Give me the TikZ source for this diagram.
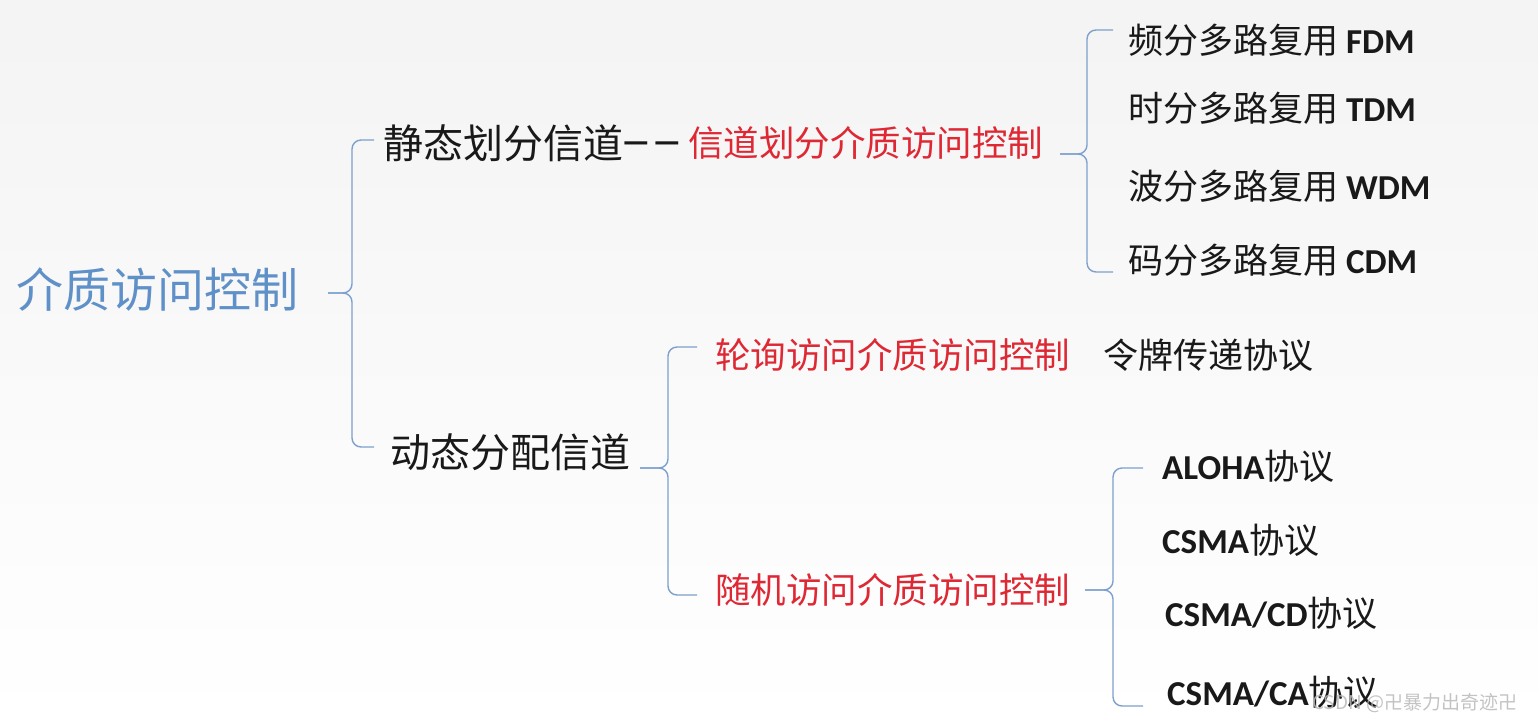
\documentclass[tikz,border=0pt]{standalone}
\usepackage{fontspec}
\newfontfamily\cjk{Noto Sans CJK SC}
\newfontfamily\lat{Carlito}
\definecolor{tblue}{RGB}{95,145,200}
\definecolor{tred}{RGB}{222,40,52}
\definecolor{brc}{RGB}{125,160,205}
\definecolor{tblack}{RGB}{25,25,25}
\newcommand\fs[1]{\fontsize{#1pt}{#1pt}\selectfont}
\tikzset{
  lbl/.style={inner sep=0pt, anchor=west, text=tblack, font=\cjk\fs{40}},
  redl/.style={lbl, text=tred, font=\cjk\fs{35.5}},
  leaf/.style={lbl, font=\cjk\fs{35}},
  brc/.style={draw=brc, line width=1.4pt, rounded corners=9pt},
}
% brace: #1 x of vertical, #2 top y, #3 bottom y, #4 mid y, #5 left x, #6 right x
\newcommand\mybrace[6]{%
  \draw[brc] (#6,#2) -- (#1,#2) -- (#1,#4) -- (#5,#4);
  \draw[brc] (#5,#4) -- (#1,#4) -- (#1,#3) -- (#6,#3);
}
\begin{document}
\begin{tikzpicture}[x=1pt,y=-1pt]
\shade[top color=gray!9, bottom color=white] (0,0) rectangle (1538,723);
\useasboundingbox (0,0) rectangle (1538,723);

\node[lbl, text=tblue, font=\cjk\fs{47}] (root) at (16,290) {介质访问控制};

\node[lbl] (static) at (383,143) {静态划分信道};
\node[lbl, font=\cjk\bfseries\fs{28}] (dash) at (623,147) {—\hspace{6pt}—};
\node[redl] (chan) at (688,143) {信道划分介质访问控制};

\node[leaf] (fdm) at (1128,40) {频分多路复用 {\lat\bfseries FDM}};
\node[leaf] (tdm) at (1128,108) {时分多路复用 {\lat\bfseries TDM}};
\node[leaf] (wdm) at (1128,186) {波分多路复用 {\lat\bfseries WDM}};
\node[leaf] (cdm) at (1128,260) {码分多路复用 {\lat\bfseries CDM}};

\node[lbl] (dyn) at (390,452) {动态分配信道};
\node[redl] (poll) at (715,355) {轮询访问介质访问控制};
\node[leaf] (token) at (1103,355) {令牌传递协议};
\node[redl] (rand) at (715,590) {随机访问介质访问控制};

\node[leaf] (aloha) at (1162,466) {{\lat\bfseries ALOHA}协议};
\node[leaf] (csma) at (1162,540) {{\lat\bfseries CSMA}协议};
\node[leaf] (csmacd) at (1165,613) {{\lat\bfseries CSMA/CD}协议};
\node[leaf] (csmaca) at (1167,692) {{\lat\bfseries CSMA/CA}协议};

\mybrace{352}{140}{447}{293}{328}{374}
\mybrace{1087}{30}{272}{154}{1060}{1113}
\mybrace{668}{347}{595}{468}{640}{697}
\mybrace{1113}{468}{706}{590}{1085}{1143}

\node[inner sep=0pt, anchor=west, text=gray!55, opacity=0.85, font=\cjk\fs{19}] (wm) at (1312,703) {CSDN @卍暴力出奇迹卍};
\end{tikzpicture}
\end{document}
